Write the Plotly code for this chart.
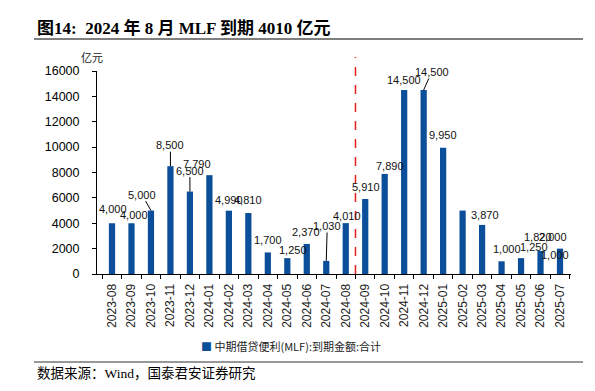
import plotly.graph_objects as go

months = ["2023-08", "2023-09", "2023-10", "2023-11", "2023-12", "2024-01", "2024-02",
          "2024-03", "2024-04", "2024-05", "2024-06", "2024-07", "2024-08", "2024-09",
          "2024-10", "2024-11", "2024-12", "2025-01", "2025-02", "2025-03", "2025-04",
          "2025-05", "2025-06", "2025-07"]
mlf_due = [4000, 4000, 5000, 8500, 6500, 7790, 4990, 4810, 1700, 1250, 2370, 1030, 4010,
           5910, 7890, 14500, 14500, 9950, 5000, 3870, 1000, 1250, 1820, 2000]
y_ticks = [0, 2000, 4000, 6000, 8000, 10000, 12000, 14000, 16000]
series_name = "中期借贷便利(MLF):到期金额:合计"
title_text = "图14:  2024 年 8 月 MLF 到期 4010 亿元"
unit_text = "亿元"
source_text = "数据来源：Wind，国泰君安证券研究"

# label placement (pixel offsets from bar top), None = no label
label_offsets = [(1, -14, False), (3, -8, False), (-9, -16, True), (0, -21, True),
                 (0, -21, True), (-12, -11, False), (0, -11, False), (0, -13, False),
                 (0, -12, False), (6, -8, False), (-1, -12, False), (1, -35, True),
                 (1, -7, False), (1, -12, False), (5, -8, False), (0, -10, False),
                 (8, -18, True), (0, -13, False), None, (3, -10, False), (5, -12, False),
                 (13, -11, False), (-3, -14, False), (-7, -12, False)]

BLUE = "#0B4F9A"
L, R, T, B = 97, 24, 71, 117
W, H = 595, 391
pw, ph = W - L - R, H - T - B


def px(xp):
    return (xp - L) / pw


def py(yp):
    return (H - B - yp) / ph


fig = go.Figure()
fig.add_trace(go.Bar(x=months, y=mlf_due, marker=dict(color=BLUE, line=dict(width=0)),
                     name=series_name, showlegend=False))

label_font = dict(family="Liberation Sans, Arial", size=11, color="#111111")
annotations = []
for m, v, off in zip(months, mlf_due, label_offsets):
    if off is None:
        continue
    dx, dy, leader = off
    txt = f"{v:,}"
    if leader:
        annotations.append(dict(x=m, y=v, xref="x", yref="y", text=txt, showarrow=True,
                                arrowhead=0, arrowwidth=1, arrowcolor="#000000",
                                ax=dx, ay=dy, borderpad=0, font=label_font))
    else:
        annotations.append(dict(x=m, y=v, xref="x", yref="y", text=txt, showarrow=False,
                                xshift=dx, yshift=-dy, font=label_font))
# extra overlapping label shown in the original near the last bar
annotations.append(dict(x=months[-1], y=mlf_due[-1], xref="x", yref="y", text=f"{1000:,}",
                        showarrow=False, xshift=-5, yshift=-6, font=label_font))

annotations += [
    dict(x=px(35), y=py(28), xref="paper", yref="paper", xanchor="left", yanchor="middle",
         text="<b>" + title_text + "</b>", showarrow=False,
         font=dict(family="Liberation Serif, Noto Sans CJK SC", size=17, color="#000000")),
    dict(x=px(92), y=py(57), xref="paper", yref="paper", xanchor="center", yanchor="middle",
         text=unit_text, showarrow=False,
         font=dict(family="Noto Sans CJK SC", size=11, color="#222222")),
    dict(x=px(199), y=py(346), xref="paper", yref="paper", xanchor="left", yanchor="middle",
         text=f"<span style='color:{BLUE}'>■</span> {series_name}", showarrow=False,
         font=dict(family="Noto Sans CJK SC", size=11, color="#222222")),
    dict(x=px(35), y=py(373), xref="paper", yref="paper", xanchor="left", yanchor="middle",
         text=source_text, showarrow=False,
         font=dict(family="Liberation Serif, Noto Sans CJK SC", size=13.5, color="#000000")),
]

shapes = [
    dict(type="line", xref="x", yref="paper", x0=12.5, x1=12.5, y0=0, y1=py(57),
         line=dict(color="#E3201B", width=1.5, dash="dash")),
    dict(type="line", xref="paper", yref="paper", x0=px(34), x1=px(583), y0=py(39), y1=py(39),
         line=dict(color="#555555", width=1.5)),
    dict(type="line", xref="paper", yref="paper", x0=px(34), x1=px(583), y0=py(362), y1=py(362),
         line=dict(color="#333333", width=1.2)),
]

fig.update_layout(
    width=W, height=H,
    margin=dict(l=L, r=R, t=T, b=B, pad=0),
    paper_bgcolor="white", plot_bgcolor="white",
    bargap=0.68,
    annotations=annotations, shapes=shapes,
    font=dict(family="Liberation Sans, Arial", size=12, color="#000000"),
)
fig.update_xaxes(type="category", tickangle=-90, showline=True, linecolor="#000000",
                 linewidth=1, ticks="outside", ticklen=4, tickcolor="#000000",
                 tickson="boundaries", showgrid=False, ticklabelstandoff=4,
                 tickfont=dict(family="Liberation Sans, Arial", size=12, color="#222222"))
fig.update_yaxes(range=[0, 16000], tickvals=y_ticks, tickformat="d", showline=True,
                 linecolor="#000000", linewidth=1, ticks="outside", ticklen=4,
                 tickcolor="#000000", showgrid=False, zeroline=False, ticklabelstandoff=10,
                 tickfont=dict(family="Liberation Sans, Arial", size=12.5, color="#000000"))

fig.write_html("out.html", config={"displayModeBar": False},
               post_script="document.body.style.margin='0';document.body.style.padding='0';")
